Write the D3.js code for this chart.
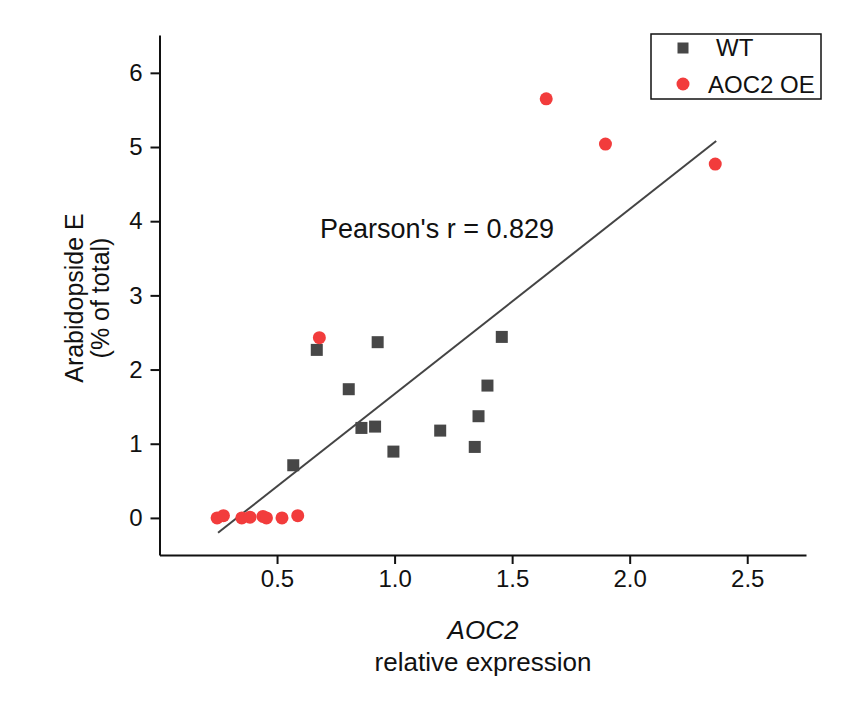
<!DOCTYPE html>
<html>
<head>
<meta charset="utf-8">
<script src="https://cdn.jsdelivr.net/npm/d3@7"></script>
<style>
  body { margin: 0; background: #fff; }
  svg { font-family: "Liberation Sans", Arial, sans-serif; }
</style>
</head>
<body>
<svg id="chart" width="854" height="708"></svg>
<script>
// WT samples (squares)
var wtX = [0.569, 0.669, 0.805, 0.859, 0.917, 0.928, 0.995, 1.194, 1.341, 1.357, 1.395, 1.456];
var wtY = [0.71, 2.265, 1.735, 1.213, 1.231, 2.369, 0.894, 1.177, 0.957, 1.371, 1.784, 2.44];

// AOC2 OE samples (circles)
var oeX = [0.245, 0.272, 0.35, 0.385, 0.44, 0.455, 0.521, 0.588, 0.68, 1.645, 1.897, 2.364];
var oeY = [0.0, 0.03, 0.0, 0.01, 0.02, 0.0, 0.0, 0.03, 2.43, 5.65, 5.04, 4.77];

// fitted line end points (data units)
var fitX = [0.249, 2.368];
var fitY = [-0.2, 5.08];

var xTicks = [0.5, 1.0, 1.5, 2.0, 2.5];
var yTicks = [0, 1, 2, 3, 4, 5, 6];

var svg = d3.select("#chart");

var mLeft = 159.5, mRight = 806, mTop = 35, mBottom = 555;

var x = d3.scaleLinear().domain([0, 2.75]).range([mLeft, mRight]);
var y = d3.scaleLinear().domain([-0.5, 6.51]).range([mBottom, mTop]);

var sqColor = "#474747";
var ciColor = "#f23c3c";
var fs = 24;

// ── Axes ─────────────────────────────────────────────
var gx = svg.append("g")
  .attr("transform", "translate(0," + mBottom + ")")
  .call(d3.axisBottom(x).tickValues(xTicks).tickFormat(d3.format(".1f")).tickSize(9).tickSizeOuter(0).tickPadding(6));
gx.attr("font-family", null).attr("font-size", null);
gx.select(".domain").attr("stroke", "#111").attr("stroke-width", 2);
gx.selectAll(".tick line").attr("stroke", "#111").attr("stroke-width", 2);
gx.selectAll("text").style("font-size", fs + "px").attr("fill", "#111");

var gy = svg.append("g")
  .attr("transform", "translate(" + mLeft + ",0)")
  .call(d3.axisLeft(y).tickValues(yTicks).tickFormat(d3.format("d")).tickSize(9).tickSizeOuter(0).tickPadding(8));
gy.attr("font-family", null).attr("font-size", null);
gy.select(".domain").attr("stroke", "#111").attr("stroke-width", 2);
gy.selectAll(".tick line").attr("stroke", "#111").attr("stroke-width", 2);
gy.selectAll("text").style("font-size", fs + "px").attr("fill", "#111");

// ── Axis titles ──────────────────────────────────────
var yMid = 298;
svg.append("text")
  .attr("transform", "translate(83," + yMid + ") rotate(-90)")
  .attr("text-anchor", "middle")
  .style("font-size", "25px")
  .attr("fill", "#111")
  .text("Arabidopside E");

svg.append("text")
  .attr("transform", "translate(109," + yMid + ") rotate(-90)")
  .attr("text-anchor", "middle")
  .style("font-size", "25px")
  .attr("fill", "#111")
  .text("(% of total)");

svg.append("text")
  .attr("x", 483)
  .attr("y", 639)
  .attr("text-anchor", "middle")
  .style("font-size", "26px")
  .style("font-style", "italic")
  .attr("fill", "#111")
  .text("AOC2");

svg.append("text")
  .attr("x", 483)
  .attr("y", 671)
  .attr("text-anchor", "middle")
  .style("font-size", "26px")
  .attr("fill", "#111")
  .text("relative expression");

// ── Fit line ─────────────────────────────────────────
svg.append("line")
  .attr("x1", x(fitX[0])).attr("y1", y(fitY[0]))
  .attr("x2", x(fitX[1])).attr("y2", y(fitY[1]))
  .attr("stroke", "#444").attr("stroke-width", 2);

// ── Points ───────────────────────────────────────────
var sq = 12;
wtX.forEach(function(v, i) {
  svg.append("rect")
    .attr("x", x(v) - sq / 2).attr("y", y(wtY[i]) - sq / 2)
    .attr("width", sq).attr("height", sq)
    .attr("fill", sqColor);
});

oeX.forEach(function(v, i) {
  svg.append("circle")
    .attr("cx", x(v)).attr("cy", y(oeY[i]))
    .attr("r", 6.5)
    .attr("fill", ciColor);
});

// ── Annotation ───────────────────────────────────────
svg.append("text")
  .attr("x", 320)
  .attr("y", 238)
  .style("font-size", "27px")
  .attr("fill", "#111")
  .text("Pearson's r = 0.829");

// ── Legend ───────────────────────────────────────────
var lg = svg.append("g");
lg.append("rect")
  .attr("x", 651).attr("y", 34).attr("width", 170).attr("height", 65)
  .attr("fill", "#fff").attr("stroke", "#111").attr("stroke-width", 1.5);
lg.append("rect")
  .attr("x", 683 - 5.5).attr("y", 48 - 5.5).attr("width", 11).attr("height", 11)
  .attr("fill", sqColor);
lg.append("text")
  .attr("x", 716).attr("y", 56)
  .style("font-size", "24px").attr("fill", "#111")
  .text("WT");
lg.append("circle")
  .attr("cx", 683).attr("cy", 84).attr("r", 6.5)
  .attr("fill", ciColor);
lg.append("text")
  .attr("x", 708).attr("y", 93)
  .style("font-size", "24px").attr("fill", "#111")
  .text("AOC2 OE");
</script>
</body>
</html>
